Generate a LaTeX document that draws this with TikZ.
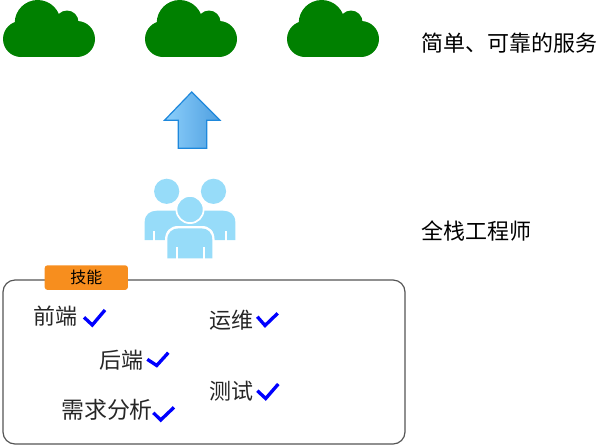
\documentclass[tikz,border=0pt]{standalone}
\usepackage{fontspec}
\newfontfamily\cjk{Noto Sans CJK SC}
\definecolor{cloudgreen}{HTML}{008000}
\definecolor{people}{HTML}{97DCF9}
\definecolor{tagorange}{HTML}{F78E1E}
\definecolor{boxline}{HTML}{555555}
\definecolor{arrowedge}{HTML}{1E88DC}
\definecolor{arrowlight}{HTML}{8CCFFB}
\definecolor{arrowdark}{HTML}{4F9FE0}
\tikzset{
  x=0.75pt,y=-0.75pt,
  caption/.style={font=\cjk\fontsize{16.5}{18}\selectfont,anchor=west,inner sep=0pt,text=black},
  skill/.style={font=\cjk\fontsize{16.5}{18}\selectfont,anchor=center,inner sep=0pt,text=black!85},
  tick/.style={draw=blue,line width=2.5pt,line join=miter},
  person/.style={fill=people,draw=none},
  halo/.style={fill=people,draw=white,line width=1.3pt},
  notch/.style={fill=white,draw=none},
}
\begin{document}
\begin{tikzpicture}
\useasboundingbox (0,0) rectangle (598,447);
% clouds
\foreach \dx in {0,142,284}{
  \begin{scope}[shift={(\dx,0)}]
    \fill[cloudgreen] (37.7,23) circle (23);
    \fill[cloudgreen] (67,22) circle (11.5);
    \fill[cloudgreen] (21,39) circle (18);
    \fill[cloudgreen] (77,39) circle (18);
    \fill[cloudgreen] (21,28) rectangle (77,57);
  \end{scope}
}
% up arrow
\draw[draw=arrowedge,line width=0.9pt,left color=arrowlight,right color=arrowdark,line join=miter]
  (191.7,92) -- (220,120.3) -- (206.7,120.3) -- (206.7,148.3) -- (178.3,148.3) -- (178.3,120.3) -- (164.5,120.3) -- cycle;
% people
\fill[person] (166.7,191.3) circle (12.6);
\fill[person] (213.5,191.3) circle (12.6);
\fill[person] (144.7,240) -- (144.7,222) .. controls (144.7,214.5) and (150,210.7) .. (157,210.7)
  -- (223,210.7) .. controls (230,210.7) and (235.3,214.5) .. (235.3,222) -- (235.3,240) -- cycle;
\fill[notch] (153.3,230.7) rectangle (155.3,240.5);
\fill[notch] (224.7,230.7) rectangle (226.7,240.5);
\fill[white] (165,259) -- (165,240) .. controls (165,231) and (170.5,226) .. (178,226)
  -- (202,226) .. controls (209.5,226) and (214.6,231) .. (214.6,240) -- (214.6,259) -- cycle;
\fill[person] (167.3,258.3) -- (167.3,240) .. controls (167.3,232.5) and (172,228.3) .. (179,228.3)
  -- (201,228.3) .. controls (208,228.3) and (212.3,232.5) .. (212.3,240) -- (212.3,258.3) -- cycle;
\fill[notch] (176,247) rectangle (178,258.8);
\fill[notch] (203.3,247) rectangle (205.3,258.8);
\draw[halo] (190,209.5) circle (13.6);
% captions
\node[caption] (service) at (421,43) {简单、可靠的服务};
\node[caption] (engineer) at (421,231) {全栈工程师};
% skills box
\node[draw=boxline,line width=0.9pt,rounded corners=9pt,outer sep=0pt,minimum width=301.5pt,minimum height=123pt,inner sep=0pt,anchor=north west] (skillbox) at (3,280) {};
\node[fill=tagorange,rounded corners=2.2pt,minimum width=62.5pt,minimum height=18.5pt,inner sep=0pt,
  font=\cjk\fontsize{12}{14}\selectfont,text=black] (tag) at (86.3,277.6) {技能};
\node[skill] (front) at (55,316) {前端};
\node[skill] (ops) at (231,320) {运维};
\node[skill] (back) at (121,360) {后端};
\node[skill] (test) at (231,391) {测试};
\node[skill,font=\cjk\fontsize{17.2}{18}\selectfont] (req) at (107,410) {需求分析};
% ticks
\draw[tick] (84,317.3) -- (92.3,325) -- (105,310);
\draw[tick] (257.3,316.7) -- (265,325.5) -- (277.7,313.3);
\draw[tick] (147.3,359.3) -- (156.7,365.5) -- (168.3,352.7);
\draw[tick] (153.3,412.7) -- (160.7,420) -- (174,407.3);
\draw[tick] (257.3,390.7) -- (265.7,398.5) -- (278.3,384);
\end{tikzpicture}
\end{document}
